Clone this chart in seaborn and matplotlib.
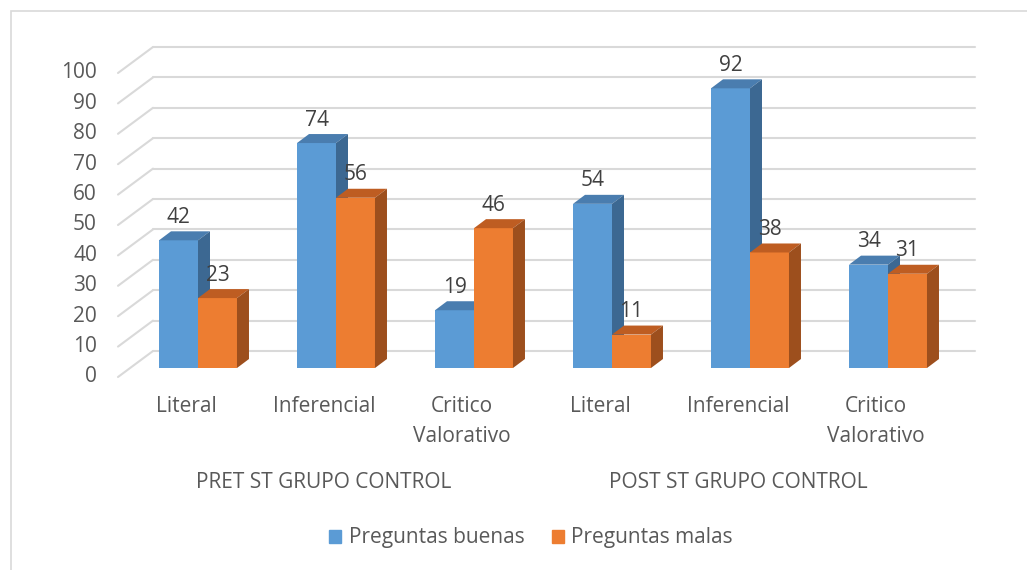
import numpy as np
import pandas as pd
import matplotlib
matplotlib.use("Agg")
import matplotlib.pyplot as plt
from matplotlib.patches import Polygon, Patch, Rectangle
from matplotlib.lines import Line2D
from matplotlib.transforms import IdentityTransform
import seaborn as sns

# data
groups = ["PRET ST GRUPO CONTROL", "POST ST GRUPO CONTROL"]
categories = ["Literal", "Inferencial", "Critico\nValorativo"]
series = ["Preguntas buenas", "Preguntas malas"]
buenas = [42, 74, 19, 54, 92, 34]
malas = [23, 56, 46, 11, 38, 31]
y_ticks = list(range(0, 101, 10))

blue, orange = "#5B9BD5", "#ED7D31"
shade = {blue: ("#4A7DAF", "#3C6892"), orange: ("#BE5D22", "#9D4F1D")}
grid_c = "#D9D9D9"
txt_c = "#595959"
FS = 15

slots = [f"{g}|{c}" for g in groups for c in categories]
df = pd.DataFrame({
    "slot": slots * 2,
    "valor": buenas + malas,
    "serie": [series[0]] * len(slots) + [series[1]] * len(slots),
})

sns.set_theme(style="white")
plt.rcParams["font.family"] = ["Open Sans", "DejaVu Sans"]

W, H = 1027, 570
fig = plt.figure(figsize=(W / 100, H / 100), dpi=100)
ax = fig.add_axes([130 / W, 1 - 368 / H, (952 - 130) / W, (368 - 64) / H])
sns.barplot(data=df, x="slot", y="valor", hue="serie", order=slots,
            hue_order=series, palette=[blue, orange], width=0.565,
            saturation=1, legend=False, linewidth=0, ax=ax)
ax.set_xlim((130 - 198) / 138, (952 - 198) / 138)
ax.set_ylim(0, 100)
ax.set_axis_off()

to_px = ax.transData.transform
ident = IdentityTransform()
D = np.array([12, 9])     # bar depth
F = np.array([-12, -9])   # front edge of floor
B = np.array([23, 17])    # back wall
x0, x1 = ax.get_xlim()

# gridlines on back wall + slanted side wall
for v in y_ticks:
    a, b = to_px((x0, v)), to_px((x1, v))
    ax.add_line(Line2D([a[0] + B[0], b[0] + B[0]], [a[1] + B[1], b[1] + B[1]],
                       transform=ident, color=grid_c, lw=1.5, clip_on=False, zorder=1))
    ax.add_line(Line2D([a[0] + F[0], a[0] + B[0]], [a[1] + F[1], a[1] + B[1]],
                       transform=ident, color=grid_c, lw=1.5, clip_on=False, zorder=1))
    fig.text(a[0] + F[0] - 21, a[1] + F[1], str(v), transform=ident,
             ha="right", va="center", fontsize=FS, color=txt_c)

# 3D faces
n = len(slots)
colored = [(p, blue) for p in ax.patches[:n]] + [(p, orange) for p in ax.patches[n:2 * n]]
colored.sort(key=lambda t: t[0].get_x())
for rank, (p, col) in enumerate(colored):
    x, w, h = p.get_x(), p.get_width(), p.get_height()
    br, tl, tr = to_px((x + w, 0)), to_px((x, h)), to_px((x + w, h))
    top_c, side_c = shade[col]
    z = 3 + 2 * rank
    p.set_zorder(z)
    ax.add_patch(Polygon([tl, tr, tr + D, tl + D], closed=True, transform=ident,
                         facecolor=top_c, edgecolor="none", clip_on=False, zorder=z + 1))
    ax.add_patch(Polygon([br, br + D, tr + D, tr], closed=True, transform=ident,
                         facecolor=side_c, edgecolor="none", clip_on=False, zorder=z + 1))
    c = to_px((x + w / 2, h))
    fig.text(c[0], c[1] + 23, f"{h:.0f}", transform=ident, ha="center", va="center",
             fontsize=FS, color="#404040", zorder=50)

# category and group labels
for i, cat in enumerate(categories * len(groups)):
    pt = to_px((i, 0)) + F
    fig.text(pt[0], H - 396, cat, transform=ident, ha="center", va="top",
             fontsize=FS, color=txt_c, linespacing=1.55)
for g, grp in enumerate(groups):
    mid = to_px((g * 3 + 1, 0)) + F
    fig.text(mid[0], H - 482, grp, transform=ident, ha="center", va="center",
             fontsize=FS, color=txt_c)

handles = [Patch(color=blue, label=series[0]), Patch(color=orange, label=series[1])]
fig.legend(handles=handles, loc="center", bbox_to_anchor=(531 / W, 1 - 538 / H),
           ncol=2, frameon=False, fontsize=FS, handlelength=0.6, handleheight=0.6,
           handletextpad=0.35, columnspacing=1.3, labelcolor=txt_c)

# chart border
fig.add_artist(Rectangle((10.5, -20), W + 20, H - 10 + 20 - 0.5, transform=ident,
                         fill=False, edgecolor=grid_c, lw=1.2))

fig.savefig("out.png", dpi=100)
